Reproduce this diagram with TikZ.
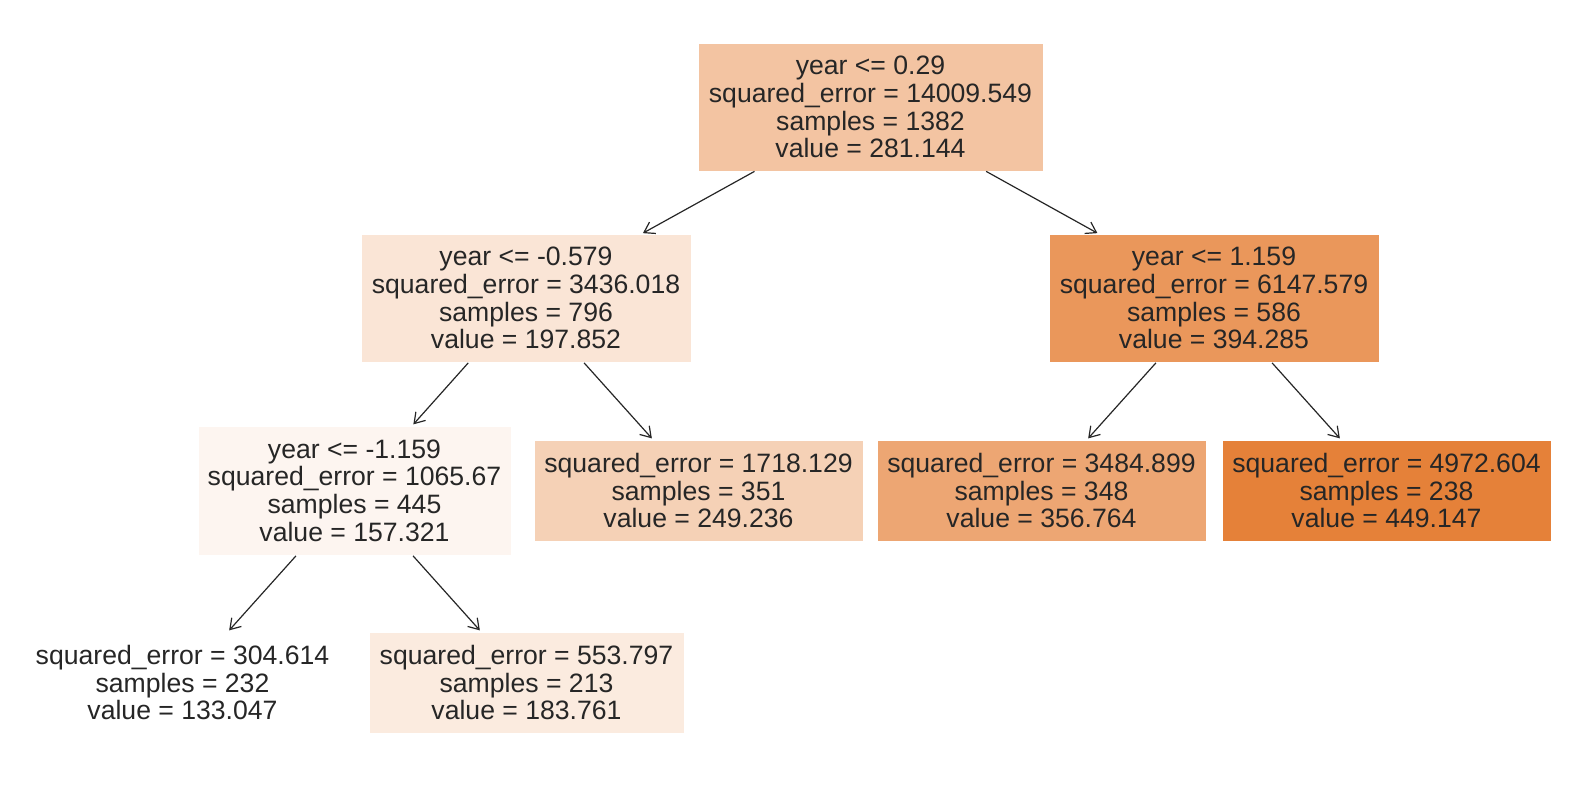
\documentclass[tikz,border=0pt]{standalone}
\usepackage{fontspec}
\setmainfont{Liberation Sans}
\usetikzlibrary{arrows.meta}
\definecolor{txt}{HTML}{262626}
\definecolor{cRoot}{HTML}{F3C4A2}
\definecolor{cL}{HTML}{FAE5D6}
\definecolor{cR}{HTML}{EA975B}
\definecolor{cA}{HTML}{FDF5F0}
\definecolor{cB}{HTML}{F5D1B6}
\definecolor{cC}{HTML}{EDA673}
\definecolor{cD}{HTML}{E58139}
\definecolor{cE}{HTML}{FFFFFF}
\definecolor{cF}{HTML}{FBEBDF}
\tikzset{
  treebox/.style={fill=#1, draw=#1, line width=0.8pt, inner sep=0pt, align=center,
    text=txt, font=\fontsize{26.6}{27.7}\selectfont},
  inner4/.style={minimum height=126pt},
  leaf3/.style={minimum height=99pt},
  edge/.style={draw=txt, line width=1.2pt, -{Straight Barb[length=10pt,width=13pt,line width=1.2pt]},
    shorten >=3pt, shorten <=2pt}
}
\begin{document}
\begin{tikzpicture}[x=1pt,y=-1pt]
\useasboundingbox (0,0) rectangle (1570,790);
\node[treebox=cRoot, inner4, minimum width=343pt] (root) at (870.5,107)
  {year <= 0.29\\squared\_error = 14009.549\\samples = 1382\\value = 281.144};
\node[treebox=cL, inner4, minimum width=328pt] (l1l) at (526,298)
  {year <= -0.579\\squared\_error = 3436.018\\samples = 796\\value = 197.852};
\node[treebox=cR, inner4, minimum width=328pt] (l1r) at (1214,298)
  {year <= 1.159\\squared\_error = 6147.579\\samples = 586\\value = 394.285};
\node[treebox=cA, inner4, minimum width=311pt, minimum height=127pt] (a) at (354.5,490.5)
  {year <= -1.159\\squared\_error = 1065.67\\samples = 445\\value = 157.321};
\node[treebox=cB, leaf3, minimum width=327pt] (b) at (698.5,490.5)
  {squared\_error = 1718.129\\samples = 351\\value = 249.236};
\node[treebox=cC, leaf3, minimum width=327pt] (c) at (1041.5,490.5)
  {squared\_error = 3484.899\\samples = 348\\value = 356.764};
\node[treebox=cD, leaf3, minimum width=327pt] (d) at (1386.5,490.5)
  {squared\_error = 4972.604\\samples = 238\\value = 449.147};
\node[treebox=cE, leaf3, minimum width=313pt] (e) at (182.5,682.5)
  {squared\_error = 304.614\\samples = 232\\value = 133.047};
\node[treebox=cF, leaf3, minimum width=313pt] (f) at (526.5,682.5)
  {squared\_error = 553.797\\samples = 213\\value = 183.761};
\draw[edge] (root) -- (l1l);
\draw[edge] (root) -- (l1r);
\draw[edge] (l1l) -- (a);
\draw[edge] (l1l) -- (b);
\draw[edge] (l1r) -- (c);
\draw[edge] (l1r) -- (d);
\draw[edge] (a) -- (e);
\draw[edge] (a) -- (f);
\end{tikzpicture}
\end{document}
